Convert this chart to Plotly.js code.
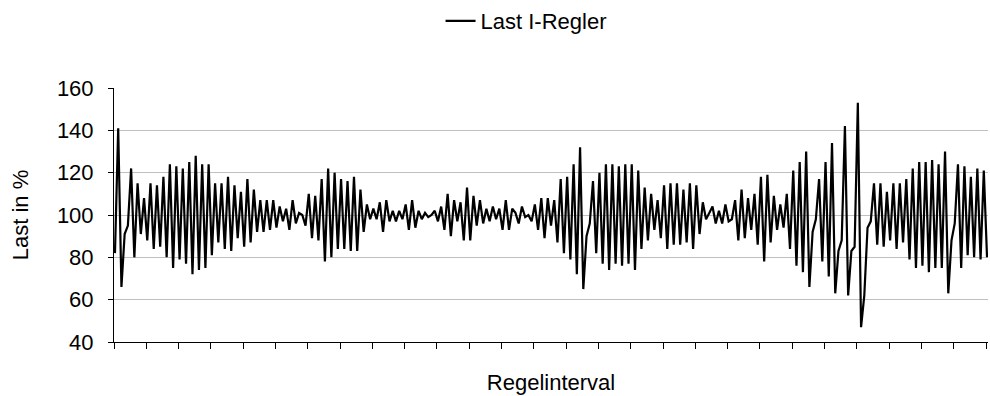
<!DOCTYPE html>
<html>
<head>
<meta charset="utf-8">
<script src="https://cdn.plot.ly/plotly-3.0.1.min.js"></script>
<style>
html,body{margin:0;padding:0;background:#fff;}
#chart{width:990px;height:396px;}
</style>
</head>
<body>
<div id="chart"></div>
<script>
// Series name and axis titles
const seriesName = "Last I-Regler";
const xTitle = "Regelinterval";
const yTitle = "Last in %";

// Load values (%) per control interval
const last = [
  82,141,66,91,95,122,80,115,91,108,
  88,115,84,114,85,118,80,124,75,123,
  79,122,77,125,72,128,74,124,75,124,
  81,115,87,115,84,118,83,114,89,111,
  85,117,87,112,92,107,92,107,93,107,
  94,104,97,103,93,107,96,101,100,95,
  110,89,109,88,117,78,122,80,120,84,
  117,84,116,83,118,83,112,92,105,98,
  103,98,106,92,107,97,102,97,102,98,
  105,93,107,94,102,98,101,99,100,102,
  97,104,93,110,90,107,97,106,88,113,
  88,109,95,107,96,103,97,104,98,103,
  93,107,93,103,101,96,104,99,100,97,
  105,93,108,89,108,95,107,87,117,82,
  118,79,124,72,132,65,90,96,116,82,
  120,77,124,74,124,77,123,76,124,77,
  124,74,121,84,113,88,110,93,107,89,
  114,84,115,86,115,86,112,87,115,84,
  114,91,106,98,101,104,96,102,96,105,
  97,98,107,88,112,89,108,93,110,86,
  118,78,119,87,109,93,105,94,110,84,
  121,76,125,73,130,66,92,98,117,78,
  125,71,134,63,83,88,142,62,83,85,
  153,47,62,94,97,115,86,115,85,111,
  88,115,84,115,87,117,79,122,75,125,
  76,125,73,126,75,124,75,130,63,88,
  96,124,75,123,81,118,80,122,79,121,
  80
];
// Interval index for each value
const interval = last.map((_, i) => i);

const font = {family: "Liberation Sans, Arial, sans-serif", color: "#000"};
const fs = 22;

const trace = {
  x: interval,
  y: last,
  type: "scatter",
  mode: "lines",
  name: seriesName,
  line: {color: "#000", width: 2.2},
  showlegend: true
};

const layout = {
  width: 990,
  height: 396,
  margin: {l: 114, r: 2, t: 88, b: 54},
  paper_bgcolor: "#fff",
  plot_bgcolor: "#fff",
  font: Object.assign({size: fs}, font),
  showlegend: true,
  legend: {
    xref: "container", yref: "container",
    x: 0.445, xanchor: "left",
    y: 1, yanchor: "top",
    orientation: "h",
    font: Object.assign({size: fs}, font),
    bgcolor: "rgba(0,0,0,0)"
  },
  xaxis: {
    range: [-0.3, 270.3],
    showgrid: false,
    zeroline: false,
    showline: true,
    linecolor: "#000",
    linewidth: 1,
    ticks: "outside",
    ticklen: 6,
    tickcolor: "#000",
    tick0: -0.3,
    dtick: 10,
    showticklabels: false,
    title: {text: xTitle, font: Object.assign({size: fs}, font), standoff: 26}
  },
  yaxis: {
    range: [40, 160],
    dtick: 20,
    tick0: 40,
    showgrid: true,
    gridcolor: "#c0c0c0",
    gridwidth: 1,
    zeroline: false,
    showline: true,
    linecolor: "#000",
    linewidth: 1,
    ticks: "outside",
    ticklen: 5,
    tickcolor: "#000",
    ticklabelstandoff: 10,
    tickfont: Object.assign({size: fs}, font),
    title: {text: yTitle, font: Object.assign({size: fs}, font), standoff: 22}
  }
};

Plotly.newPlot("chart", [trace], layout, {staticPlot: true, displayModeBar: false});
</script>
</body>
</html>
